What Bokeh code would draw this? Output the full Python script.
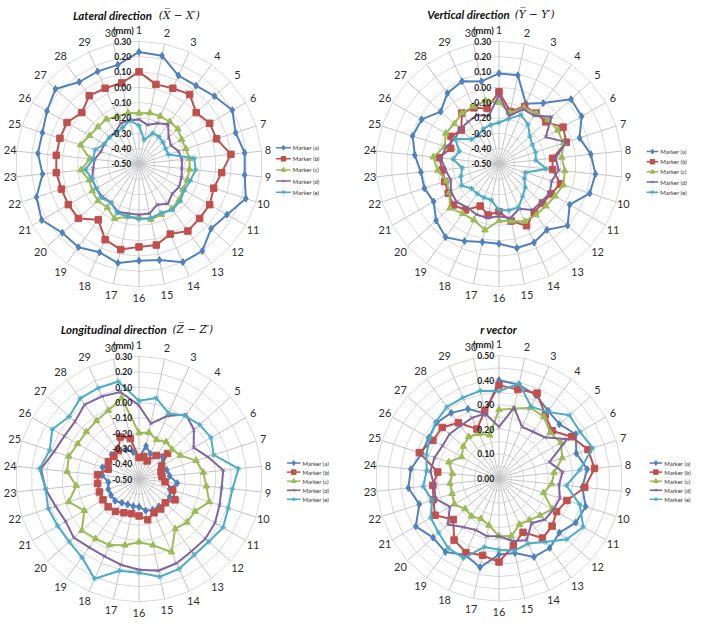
import numpy as np
from bokeh.plotting import figure
from bokeh.models import Range1d
from bokeh.core.properties import value
from bokeh.embed import file_html
from bokeh.resources import INLINE

# ---------------- data ----------------
categories = [str(i) for i in range(1, 31)]
series_names = ["Marker (a)", "Marker (b)", "Marker (c)", "Marker (d)", "Marker (e)"]

# Lateral direction (X - X')
lat_a = [0.23, 0.22, 0.13, 0.13, 0.16, 0.20, 0.16, 0.19, 0.19, 0.23, 0.16, 0.13, 0.20, 0.20, 0.14,
         0.13, 0.16, 0.13, 0.17, 0.17, 0.23, 0.20, 0.13, 0.16, 0.16, 0.19, 0.23, 0.16, 0.16, 0.16]
lat_b = [0.10, 0.03, 0.04, 0.06, 0.00, 0.03, 0.03, 0.10, 0.04, 0.01, 0.03, 0.03, 0.04, 0.00, 0.04,
         0.04, 0.07, 0.04, -0.05, 0.03, 0.03, 0.03, 0.04, 0.04, 0.04, 0.04, 0.00, 0.05, 0.04, 0.04]
lat_c = [-0.17, -0.16, -0.16, -0.16, -0.16, -0.18, -0.18, -0.17, -0.17, -0.17, -0.17, -0.15, -0.14, -0.14, -0.13,
         -0.15, -0.15, -0.11, -0.15, -0.14, -0.15, -0.16, -0.12, -0.18, -0.10, -0.13, -0.14, -0.14, -0.16, -0.16]
lat_d = [-0.21, -0.24, -0.21, -0.18, -0.24, -0.26, -0.23, -0.22, -0.22, -0.21, -0.20, -0.21, -0.18, -0.21, -0.17,
         -0.17, -0.17, -0.16, -0.19, -0.18, -0.18, -0.18, -0.20, -0.21, -0.24, -0.24, -0.24, -0.24, -0.21, -0.21]
lat_e = [-0.25, -0.34, -0.28, -0.28, -0.29, -0.30, -0.30, -0.14, -0.13, -0.15, -0.16, -0.14, -0.13, -0.15, -0.14,
         -0.14, -0.15, -0.15, -0.19, -0.17, -0.18, -0.18, -0.15, -0.20, -0.20, -0.24, -0.24, -0.25, -0.24, -0.21]

# Vertical direction (Y - Y')
ver_a = [0.09, 0.09, -0.07, -0.01, 0.13, 0.12, 0.05, 0.10, 0.13, 0.12, 0.03, 0.10, 0.03, 0.06, 0.06,
         0.02, 0.02, 0.05, 0.09, 0.05, -0.01, 0.01, 0.01, 0.05, 0.09, 0.08, 0.01, 0.07, 0.09, 0.05]
ver_b = [-0.03, -0.15, -0.09, -0.09, -0.09, -0.02, -0.04, -0.15, -0.15, -0.08, -0.11, -0.12, -0.11, -0.06, -0.12,
         -0.19, -0.16, -0.20, -0.13, -0.10, -0.12, -0.13, -0.13, -0.11, -0.17, -0.14, -0.17, -0.09, -0.10, -0.13]
ver_c = [-0.10, -0.16, -0.10, -0.09, -0.07, -0.06, -0.06, -0.09, -0.07, -0.06, -0.08, -0.09, -0.09, -0.09, -0.12,
         -0.13, -0.06, -0.10, -0.10, -0.07, -0.13, -0.14, -0.10, -0.07, -0.13, -0.10, -0.11, -0.09, -0.09, -0.08]
ver_d = [-0.05, -0.18, -0.11, -0.11, -0.04, -0.15, -0.04, -0.13, -0.11, -0.14, -0.12, -0.13, -0.13, -0.18, -0.14,
         -0.16, -0.14, -0.14, -0.15, -0.13, -0.14, -0.17, -0.15, -0.12, -0.14, -0.17, -0.16, -0.16, -0.15, -0.18]
ver_e = [-0.23, -0.20, -0.15, -0.18, -0.23, -0.25, -0.25, -0.26, -0.19, -0.32, -0.31, -0.27, -0.24, -0.19, -0.19,
         -0.20, -0.26, -0.26, -0.26, -0.26, -0.22, -0.24, -0.26, -0.20, -0.23, -0.17, -0.26, -0.27, -0.25, -0.24]

# Longitudinal direction (Z - Z')
lon_a = [-0.36, -0.28, -0.32, -0.31, -0.29, -0.34, -0.31, -0.30, -0.25, -0.29, -0.27, -0.27, -0.28, -0.28, -0.29,
         -0.32, -0.32, -0.32, -0.31, -0.29, -0.29, -0.29, -0.30, -0.26, -0.25, -0.28, -0.26, -0.26, -0.29, -0.32]
lon_b = [-0.36, -0.35, -0.37, -0.31, -0.25, -0.33, -0.35, -0.35, -0.33, -0.27, -0.23, -0.27, -0.26, -0.26, -0.23,
         -0.26, -0.27, -0.26, -0.24, -0.23, -0.23, -0.23, -0.23, -0.23, -0.29, -0.27, -0.28, -0.27, -0.20, -0.23]
lon_c = [-0.20, -0.19, -0.22, -0.20, -0.21, -0.19, -0.11, -0.08, -0.06, -0.02, -0.08, -0.08, -0.10, 0.02, -0.06,
         -0.09, -0.06, -0.03, -0.02, 0.00, -0.09, -0.02, -0.09, -0.03, -0.02, -0.04, -0.04, -0.03, -0.01, 0.04]
lon_d = [-0.02, -0.13, -0.05, 0.02, -0.02, -0.09, -0.03, 0.05, 0.04, 0.05, 0.07, 0.08, 0.08, 0.10, 0.11,
         0.09, 0.07, 0.05, 0.05, 0.07, 0.05, 0.07, 0.11, 0.14, 0.08, 0.06, 0.06, 0.10, 0.09, 0.08]
lon_e = [0.01, 0.04, -0.03, 0.01, 0.03, 0.04, 0.01, 0.15, 0.11, 0.11, 0.13, 0.11, 0.11, 0.14, 0.15,
         0.11, 0.11, 0.21, 0.13, 0.11, 0.11, 0.12, 0.11, 0.15, 0.11, 0.15, 0.11, 0.15, 0.15, 0.15]

# r vector
rv_a = [0.40, 0.39, 0.37, 0.34, 0.33, 0.36, 0.33, 0.36, 0.34, 0.37, 0.36, 0.33, 0.35, 0.35, 0.31,
        0.31, 0.37, 0.34, 0.37, 0.36, 0.39, 0.34, 0.37, 0.36, 0.33, 0.33, 0.34, 0.33, 0.31, 0.27]
rv_b = [0.38, 0.37, 0.38, 0.32, 0.29, 0.34, 0.38, 0.39, 0.35, 0.29, 0.27, 0.29, 0.30, 0.24, 0.28,
        0.34, 0.32, 0.33, 0.31, 0.25, 0.30, 0.28, 0.27, 0.25, 0.34, 0.31, 0.31, 0.28, 0.22, 0.28]
rv_c = [0.28, 0.29, 0.315, 0.31, 0.28, 0.29, 0.27, 0.225, 0.215, 0.19, 0.25, 0.225, 0.21, 0.205, 0.24,
        0.235, 0.195, 0.18, 0.19, 0.185, 0.21, 0.20, 0.20, 0.19, 0.215, 0.175, 0.195, 0.21, 0.20, 0.18]
rv_d = [0.21, 0.295, 0.23, 0.235, 0.25, 0.32, 0.215, 0.26, 0.245, 0.26, 0.255, 0.25, 0.225, 0.275, 0.26,
        0.235, 0.24, 0.23, 0.245, 0.28, 0.23, 0.27, 0.265, 0.28, 0.275, 0.265, 0.27, 0.265, 0.27, 0.27]
rv_e = [0.355, 0.395, 0.32, 0.335, 0.385, 0.38, 0.40, 0.33, 0.275, 0.345, 0.395, 0.37, 0.32, 0.29, 0.30,
        0.29, 0.285, 0.355, 0.35, 0.33, 0.32, 0.285, 0.31, 0.295, 0.31, 0.325, 0.345, 0.36, 0.36, 0.365]

dir_ticks = [-0.50, -0.40, -0.30, -0.20, -0.10, 0.00, 0.10, 0.20, 0.30]
dir_tick_labels = ["-0.50", "-0.40", "-0.30", "-0.20", "-0.10", "0.00", "0.10", "0.20", "0.30"]
rv_ticks = [0.00, 0.10, 0.20, 0.30, 0.40, 0.50]
rv_tick_labels = ["0.00", "0.10", "0.20", "0.30", "0.40", "0.50"]
rv_rings = [0.05, 0.10, 0.15, 0.20, 0.25, 0.30, 0.35, 0.40, 0.45, 0.50]

# ---------------- style ----------------
colors = ["#4F81BD", "#C0504D", "#9BBB59", "#8064A2", "#4BACC6"]
markers = ["diamond", "square", "triangle", "x", "asterisk"]
msizes = [7, 6.5, 6.5, 5, 5.5]
SANS = "Lato"
R = 126.0

panels = [
    dict(title="Lateral direction", math="(X\u0305 \u2212 X\u2032)", cx=141.7, cy=167.7,
         ticks=dir_ticks, labels=dir_tick_labels, rings=dir_ticks[1:],
         data=[lat_a, lat_b, lat_c, lat_d, lat_e], tx=155, mx=162, ty=15,
         lx0=282, lx1=297, ly0=151, ldy=11.4, tick_dx=8),
    dict(title="Vertical direction", math="(Y\u0305 \u2212 Y\u2032)", cx=510.0, cy=167.7,
         ticks=dir_ticks, labels=dir_tick_labels, rings=dir_ticks[1:],
         data=[ver_a, ver_b, ver_c, ver_d, ver_e], tx=521, mx=526, ty=14,
         lx0=661, lx1=673, ly0=155, ldy=10.4, tick_dx=8),
    dict(title="Longitudinal direction", math="(Z\u0305 \u2212 Z\u2032)", cx=141.7, cy=491.0,
         ticks=dir_ticks, labels=dir_tick_labels, rings=dir_ticks[1:],
         data=[lon_a, lon_b, lon_c, lon_d, lon_e], tx=170, mx=176, ty=337,
         lx0=293, lx1=307, ly0=474.5, ldy=9.3, tick_dx=7),
    dict(title="r  vector", math=None, cx=510.0, cy=490.3,
         ticks=rv_ticks, labels=rv_tick_labels, rings=rv_rings,
         data=[rv_a, rv_b, rv_c, rv_d, rv_e], tx=511, mx=None, ty=338,
         lx0=664, lx1=677, ly0=474.5, ldy=9.3, tick_dx=5),
]

N = len(categories)
theta = np.arange(N) * 2 * np.pi / N


def to_xy(vals, cx, cy, vmin, vmax):
    r = (np.asarray(vals, dtype=float) - vmin) / (vmax - vmin) * R
    return cx + r * np.sin(theta), cy - r * np.cos(theta)


# whole reference layout (709 x 635) mapped into the 693 x 619 plot area
p = figure(width=693, height=619, x_range=Range1d(0, 709), y_range=Range1d(635, 0),
           output_backend="svg", toolbar_location=None, min_border=0,
           x_axis_location=None, y_axis_location=None)
p.grid.visible = False
p.outline_line_color = None
p.background_fill_color = "white"

for pn in panels:
    cx, cy = pn["cx"], pn["cy"]
    vmin, vmax = pn["ticks"][0], pn["ticks"][-1]

    # ring gridlines (30-gons)
    xs, ys = [], []
    for rv in pn["rings"]:
        x, y = to_xy([rv] * N, cx, cy, vmin, vmax)
        xs.append(list(x) + [x[0]])
        ys.append(list(y) + [y[0]])
    p.multi_line(xs, ys, line_color="#D9D9D9", line_width=1)

    # spokes
    ox, oy = to_xy([vmax] * N, cx, cy, vmin, vmax)
    p.segment(x0=[cx] * N, y0=[cy] * N, x1=ox, y1=oy, line_color="#C4C4C4", line_width=1)

    # category labels
    rl = 132 + 5.5 * np.abs(np.cos(theta))
    lx = cx + rl * np.sin(theta)
    ly = cy - rl * np.cos(theta)
    p.text(x=lx, y=ly, text=categories, text_font=value(SANS), text_font_size="11px",
           text_color="#303030", text_align="center", text_baseline="middle")

    # series
    for k, vals in enumerate(pn["data"]):
        x, y = to_xy(vals, cx, cy, vmin, vmax)
        p.line(list(x) + [x[0]], list(y) + [y[0]], line_color=colors[k], line_width=2)
        p.scatter(x, y, marker=markers[k], size=msizes[k], fill_color=colors[k],
                  line_color=colors[k], line_width=1)

    # radial tick labels
    ty_labels = [cy - (t - vmin) / (vmax - vmin) * R for t in pn["ticks"]]
    p.text(x=[cx - pn["tick_dx"]] * len(pn["ticks"]), y=ty_labels, text=pn["labels"],
           text_font=value(SANS), text_font_size="8.5px", text_font_style="bold",
           text_color="#1a1a1a", text_align="right", text_baseline="middle")
    p.text(x=[cx - 16], y=[cy - R - 11], text=["(mm)"], text_font=value(SANS),
           text_font_size="9.5px", text_font_style="bold", text_color="#1a1a1a",
           text_align="center", text_baseline="middle")

    # title
    if pn["math"] is None:
        p.text(x=[pn["tx"]], y=[pn["ty"]], text=[pn["title"]], text_font=value(SANS),
               text_font_size="11.5px", text_font_style="bold italic", text_color="#111111",
               text_align="center", text_baseline="middle")
    else:
        p.text(x=[pn["tx"]], y=[pn["ty"]], text=[pn["title"]], text_font=value(SANS),
               text_font_size="11.5px", text_font_style="bold italic", text_color="#111111",
               text_align="right", text_baseline="middle")
        p.text(x=[pn["mx"]], y=[pn["ty"]], text=[pn["math"]], text_font=value("DejaVu Serif"),
               text_font_size="10.5px", text_font_style="italic", text_color="#111111",
               text_align="left", text_baseline="middle")

    # legend
    ly_rows = [pn["ly0"] + i * pn["ldy"] for i in range(len(series_names))]
    for k in range(len(series_names)):
        p.segment(x0=[pn["lx0"]], y0=[ly_rows[k]], x1=[pn["lx1"]], y1=[ly_rows[k]],
                  line_color=colors[k], line_width=1.5)
        p.scatter(x=[(pn["lx0"] + pn["lx1"]) / 2], y=[ly_rows[k]], marker=markers[k],
                  size=msizes[k] * 0.7, fill_color=colors[k], line_color=colors[k])
    p.text(x=[pn["lx1"] + 2] * len(series_names), y=ly_rows, text=series_names,
           text_font=value(SANS), text_font_size="6px", text_color="#333333",
           text_align="left", text_baseline="middle")

open("out.html", "w").write(file_html(p, INLINE))
